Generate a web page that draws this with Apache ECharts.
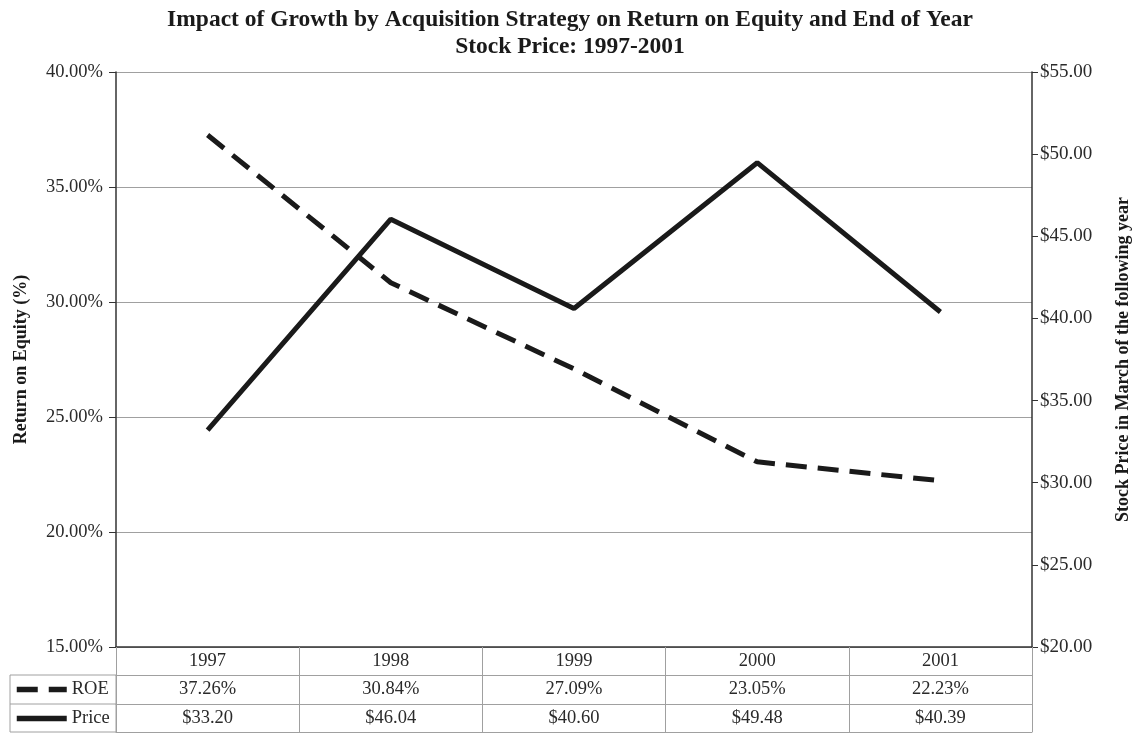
<!DOCTYPE html>
<html><head><meta charset="utf-8">
<script src="https://cdn.jsdelivr.net/npm/echarts@6/dist/echarts.min.js"></script>
<style>html,body{margin:0;padding:0;background:#fff}#c{width:1140px;height:734px}</style>
</head><body><div id="c"></div>
<script>
const years = ['1997','1998','1999','2000','2001'];
const roe = [37.26, 30.84, 27.09, 23.05, 22.23];
const price = [33.20, 46.04, 40.60, 49.48, 40.39];
const titleText = 'Impact of Growth by Acquisition Strategy on Return on Equity and End of Year\nStock Price: 1997-2001';

const SERIF = '"Liberation Serif", "DejaVu Serif", serif';
const TXT = '#2a2a2a';
const GRID = '#a0a0a0';
const FS = 18.5;
const chart = echarts.init(document.getElementById('c'));
const tableAxis = (offset, fmt, showLabel, tickLen) => ({
  type: 'category', data: years, gridIndex: 0, position: 'bottom', offset: offset,
  boundaryGap: true,
  axisLine: {show: true, lineStyle: {color: GRID, width: 1}},
  axisTick: {show: tickLen > 0, interval: 0, length: tickLen, lineStyle: {color: GRID, width: 1}},
  axisLabel: {show: showLabel, interval: 0, margin: 5, fontFamily: SERIF, fontSize: FS, color: TXT,
    formatter: fmt},
  splitLine: {show: false}
});
chart.setOption({
  animation: false,
  backgroundColor: '#fff',
  title: {text: titleText, left: 'center', top: 1,
    textStyle: {fontFamily: SERIF, fontWeight: 'bold', fontSize: 23.5, color: '#1a1a1a', lineHeight: 27}},
  grid: {left: 116, right: 92, top: 72, bottom: 87},
  legend: {orient: 'vertical', left: 14, top: 680, padding: 0, itemWidth: 50, itemHeight: 14, itemGap: 10,
    data: ['ROE', 'Price'],
    itemStyle: {opacity: 0},
    lineStyle: {width: 5.5, type: 'inherit'},
    textStyle: {fontFamily: SERIF, fontSize: FS, color: TXT}},
  xAxis: [
    {type: 'category', data: years, position: 'bottom', boundaryGap: true,
      axisLine: {show: true, lineStyle: {color: '#333', width: 1.5}},
      axisTick: {show: true, interval: 0, length: 28, lineStyle: {color: GRID}},
      axisLabel: {interval: 0, margin: 5, fontFamily: SERIF, fontSize: FS, color: TXT},
      splitLine: {show: false}},
    tableAxis(28, (v, i) => roe[i].toFixed(2) + '%', true, 29),
    tableAxis(57, (v, i) => '$' + price[i].toFixed(2), true, 28),
    tableAxis(85, () => '', false, 0)
  ],
  yAxis: [
    {type: 'value', min: 15, max: 40, interval: 5, position: 'left',
      name: 'Return on Equity (%)', nameLocation: 'middle', nameGap: 86,
      nameTextStyle: {fontFamily: SERIF, fontWeight: 'bold', fontSize: 18, color: '#1a1a1a'},
      axisLine: {show: true, lineStyle: {color: '#333', width: 1.5}},
      axisTick: {show: true, length: 7, lineStyle: {color: '#333'}},
      axisLabel: {fontFamily: SERIF, fontSize: FS, color: TXT, margin: 13,
        formatter: v => v.toFixed(2) + '%'},
      splitLine: {show: true, lineStyle: {color: GRID, width: 1}}},
    {type: 'value', min: 20, max: 55, interval: 5, position: 'right',
      name: 'Stock Price in March of the following year', nameLocation: 'middle', nameGap: 82,
      nameTextStyle: {fontFamily: SERIF, fontWeight: 'bold', fontSize: 18, color: '#1a1a1a'},
      axisLine: {show: true, lineStyle: {color: '#333', width: 1.5}},
      axisTick: {show: true, length: 6, lineStyle: {color: '#333'}},
      axisLabel: {fontFamily: SERIF, fontSize: 19, color: TXT, margin: 8,
        formatter: v => '$' + v.toFixed(2)},
      splitLine: {show: false}}
  ],
  series: [
    {name: 'ROE', type: 'line', data: roe, xAxisIndex: 0, yAxisIndex: 0, symbol: 'none',
      lineStyle: {color: '#1a1a1a', width: 5, type: [21, 11]}, itemStyle: {color: '#1a1a1a'}},
    {name: 'Price', type: 'line', data: price, xAxisIndex: 0, yAxisIndex: 1, symbol: 'none',
      lineStyle: {color: '#1a1a1a', width: 5, type: 'solid'}, itemStyle: {color: '#1a1a1a'}}
  ],
  graphic: [
    {type: 'rect', shape: {x: 10, y: 675, width: 106, height: 57}, style: {fill: 'none', stroke: GRID, lineWidth: 1}, silent: true},
    {type: 'line', shape: {x1: 10, y1: 704, x2: 116, y2: 704}, style: {stroke: GRID, lineWidth: 1}, silent: true}
  ]
});
</script></body></html>
